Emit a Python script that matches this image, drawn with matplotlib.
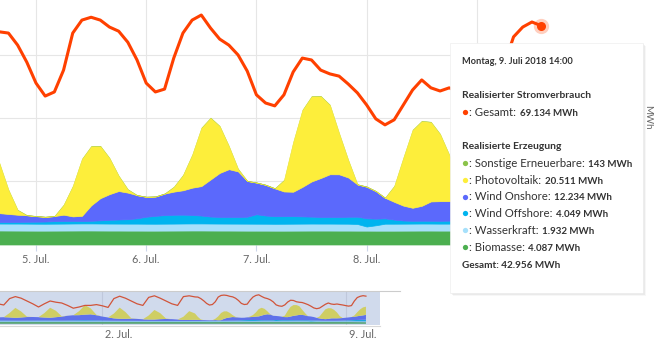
import matplotlib.pyplot as plt
import matplotlib.transforms as mtransforms
from matplotlib.patches import Rectangle
import numpy as np

plt.rcParams['font.family'] = ['Lato', 'DejaVu Sans']

# Stunden ab 4. Juli 2018 00:00, Hauptdiagramm in 2-Stunden-Schritten
hours = np.arange(16, 135, 2)

verbrauch = [67200, 66800, 63000, 57600, 51000, 46900, 48200, 55100, 66800, 70900,
             71800, 70900, 68700, 67400, 63900, 58300, 51000, 48200, 49100, 58900,
             66800, 70900, 72500, 68400, 64900, 63000, 59900, 54800, 47300, 44700,
             43800, 47300, 54500, 58900, 58300, 55100, 53900, 53200, 50700, 47900,
             44100, 39700, 37800, 39400, 44100, 48800, 52000, 49500, 48500, 49500,
             48200, 47000, 45500, 44200, 45500, 57000, 65600, 68700, 70300, 69134]

biomasse = [4420, 4410, 4400, 4390, 4380, 4380, 4390, 4400, 4410, 4420,
            4420, 4410, 4400, 4400, 4390, 4390, 4380, 4380, 4390, 4400,
            4410, 4420, 4420, 4410, 4400, 4400, 4390, 4380, 4380, 4380,
            4370, 4370, 4380, 4390, 4400, 4400, 4400, 4390, 4390, 4380,
            4380, 4370, 4370, 4370, 4380, 4390, 4400, 4400, 4390, 4390,
            4380, 4370, 4360, 4350, 4330, 4300, 4250, 4200, 4150, 4087]

wasserkraft = [2200, 2200, 2210, 2200, 2190, 2180, 2190, 2200, 2220, 2230,
               2230, 2220, 2210, 2200, 2200, 2200, 2190, 2180, 2190, 2200,
               2220, 2230, 2230, 2220, 2210, 2200, 2200, 2200, 2190, 2180,
               2170, 2180, 2190, 2200, 2210, 2200, 2200, 2190, 2180, 2100,
               1300, 1700, 2200, 2200, 2200, 2210, 2220, 2210, 2200, 2200,
               2190, 2180, 2170, 2150, 2100, 2050, 2000, 1980, 1950, 1932]

wind_offshore = [500, 500, 550, 600, 650, 700, 800, 850, 850, 800,
                 850, 1000, 1200, 1300, 1400, 1700, 2200, 2500, 2700, 2800,
                 2800, 2700, 2500, 2200, 2100, 2100, 2100, 2200, 3000, 2600,
                 2400, 2400, 2400, 2300, 2200, 2100, 2100, 2100, 2200, 2300,
                 2600, 2100, 1700, 1300, 1000, 900, 900, 900, 900, 950,
                 1100, 1400, 1800, 2200, 2600, 3000, 3300, 3600, 3900, 4049]

wind_onshore = [2790, 2540, 2240, 2060, 1750, 1480, 1600, 1970, 1400, 1600,
                4850, 7000, 8100, 9000, 8400, 7300, 6300, 6100, 6800, 7300,
                7700, 8600, 9300, 11700, 13900, 15100, 14400, 11300, 10000, 9700,
                8800, 7800, 7700, 9300, 11100, 12300, 13500, 13500, 12400, 10200,
                10000, 8700, 6500, 5600, 4700, 4100, 4700, 6100, 6200, 6150,
                6300, 6500, 6800, 7200, 7800, 8400, 9300, 10300, 11000, 12234]

photovoltaik = [15900, 7600, 1500, 0, 0, 0, 0, 3100, 9600, 18000,
                18700, 16500, 11400, 4800, 1000, 0, 0, 0, 0, 1500,
                4800, 10400, 18400, 19500, 14800, 7300, 800, 0, 0, 0,
                0, 3600, 15700, 24300, 26900, 25900, 21900, 13000, 5500, 0,
                0, 0, 0, 5000, 15200, 24600, 26800, 25100, 21200, 14600,
                5000, 0, 0, 0, 0, 3000, 10000, 16000, 20000, 20511]

sonstige = [150, 150, 150, 150, 150, 150, 150, 150, 150, 150,
            150, 150, 150, 150, 150, 150, 150, 150, 150, 150,
            150, 150, 150, 150, 150, 150, 150, 150, 150, 150,
            150, 150, 150, 150, 150, 150, 150, 150, 150, 150,
            150, 150, 150, 150, 150, 150, 150, 150, 150, 150,
            150, 150, 150, 150, 150, 145, 145, 145, 145, 143]

# Navigator: Vorlauf ab 29. Juni in 4-Stunden-Schritten
nav_hours = np.arange(-120, 13, 4)
nav_verbrauch = [50000, 47000, 63000, 68000, 64000, 57000, 50000, 42000, 50000, 57000,
                 54000, 52000, 46000, 39000, 42000, 46000, 46000, 48000, 45000, 41000,
                 63000, 69000, 64000, 57000, 50000, 46000, 66000, 70000, 64000, 57000,
                 50000, 46000, 68000, 70000]
nav_photovoltaik = [0, 0, 11000, 25000, 15000, 1000, 0, 0, 11000, 25000,
                    16000, 1000, 0, 0, 10000, 24000, 15000, 1000, 0, 0,
                    12000, 28000, 17000, 1000, 0, 0, 10000, 24000, 15000, 1000,
                    0, 0, 8000, 22000]
nav_onshore = [8000, 8500, 8000, 7000, 8000, 9000, 9000, 8500, 7500, 7000,
               8500, 10000, 12000, 13000, 13000, 14000, 15000, 13000, 10000, 8000,
               6000, 5000, 5000, 5500, 5000, 4000, 3500, 3500, 4500, 5000,
               4500, 3500, 2500, 2500]
nav_offshore = [1500, 1400, 1300, 1200, 1200, 1300, 1400, 1500, 1600, 1500,
                1400, 1300, 1500, 1800, 2000, 2200, 2000, 1800, 1500, 1200,
                1000, 900, 800, 800, 700, 600, 600, 500, 500, 500,
                500, 500, 500, 500]
nav_wasser = [2200, 2200, 2200, 2200, 2200, 2200, 2200, 2200, 2200, 2200,
              2200, 2200, 2200, 2200, 2200, 2200, 2200, 2200, 2200, 2200,
              2200, 2200, 2200, 2200, 2200, 2200, 2200, 2200, 2200, 2200,
              2200, 2200, 2200, 2200]
nav_biomasse = [4400, 4400, 4400, 4400, 4400, 4400, 4400, 4400, 4400, 4400,
                4400, 4400, 4400, 4400, 4400, 4400, 4400, 4400, 4400, 4400,
                4400, 4400, 4400, 4400, 4400, 4400, 4400, 4400, 4400, 4400,
                4400, 4400, 4400, 4400]

# 9. Juli liegt unter dem Tooltip, daher ohne Beschriftung
day_ticks = [24, 48, 72, 96, 120]
day_labels = ['5. Jul.', '6. Jul.', '7. Jul.', '8. Jul.', '']

c_verbrauch = '#ff4000'
c_sonstige = '#8bc34a'
c_pv = '#fdee3b'
c_onshore = '#5b69fc'
c_offshore = '#00b4ef'
c_wasser = '#a6e0fb'
c_bio = '#4caf50'
stack_colors = [c_bio, c_wasser, c_offshore, c_onshore, c_pv, c_sonstige]

W, H = 664, 344
fig = plt.figure(figsize=(W / 100, H / 100), dpi=100)

# Hauptdiagramm
ax = fig.add_axes([0, 1 - 244.5 / H, 541.1 / W, 244.5 / H])
polys = ax.stackplot(hours, biomasse, wasserkraft, wind_offshore, wind_onshore,
                     photovoltaik, sonstige, colors=stack_colors, linewidth=0.5, zorder=2)
for p, c in zip(polys, stack_colors):
    p.set_edgecolor(c)
polys[-1].set_linewidth(0)
ax.plot(hours, verbrauch, color=c_verbrauch, lw=2.2, solid_joinstyle='round', zorder=5)
ax.plot(hours[-1], verbrauch[-1], 'o', ms=11, color=c_verbrauch, alpha=0.25, mew=0,
        zorder=6, clip_on=False)
ax.plot(hours[-1], verbrauch[-1], 'o', ms=6.5, color=c_verbrauch, mew=0, zorder=7, clip_on=False)
ax.set_xlim(16.16, 134)
ax.set_ylim(0, 77250)
ax.set_yticks([20000, 40000, 60000])
ax.set_xticks(day_ticks, labels=day_labels)
ax.set_axisbelow(True)
ax.grid(True, color='#e6e6e6', lw=0.8)
ax.tick_params(axis='y', length=0, labelleft=False)
ax.tick_params(axis='x', length=4.5, width=0.8, color='#ccd6eb', labelcolor='#666666',
               labelsize=7.8, pad=2)
for s in ax.spines.values():
    s.set_visible(False)

# Navigator
nav = fig.add_axes([0, 1 - 325 / H, 380 / W, 34 / H])
all_hours = np.concatenate([nav_hours, hours])
nav.stackplot(all_hours,
              np.concatenate([nav_biomasse, biomasse]),
              np.concatenate([nav_wasser, wasserkraft]),
              np.concatenate([nav_offshore, wind_offshore]),
              np.concatenate([nav_onshore, wind_onshore]),
              np.concatenate([nav_photovoltaik, photovoltaik]),
              colors=stack_colors[:5], linewidth=0, zorder=2)
nav.plot(all_hours, np.concatenate([nav_verbrauch, verbrauch]), color=c_verbrauch,
         lw=0.9, zorder=3)
nav.add_patch(Rectangle((0, 0), 1, 1, transform=nav.transAxes,
                        color=(102 / 255, 133 / 255, 194 / 255), alpha=0.3, lw=0, zorder=10))
nav.set_xlim(-118.6, 143.7)
nav.set_ylim(-3000, 82000)
nav.set_xticks([-48, 120], labels=['2. Jul.', '9. Jul.'])
nav.set_yticks([])
nav.set_axisbelow(True)
nav.grid(True, axis='x', color='#e6e6e6', lw=0.8)
nav.tick_params(axis='x', length=0, labelcolor='#666666', labelsize=7.8, pad=3)
offset = mtransforms.ScaledTranslation(3 / 100, 0, fig.dpi_scale_trans)
for lbl in nav.get_xticklabels():
    lbl.set_horizontalalignment('left')
    lbl.set_transform(lbl.get_transform() + offset)
for s in nav.spines.values():
    s.set_visible(False)

# Overlay in Pixelkoordinaten für Tooltip und Achsentitel
ov = fig.add_axes([0, 0, 1, 1], zorder=20)
ov.set_xlim(0, W)
ov.set_ylim(H, 0)
ov.axis('off')

ov.plot([0, 400], [291, 291], color='#cccccc', lw=0.8)
ov.plot([0, 380], [325.5, 325.5], color='#d8d8d8', lw=0.8)
ov.text(648, 117, 'MWh', rotation=270, ha='center', va='center', fontsize=7, color='#666666')

bx, by, bw, bh = 450, 43, 192.7, 249.7
for d, a in [(3, 0.03), (2, 0.05), (1, 0.07)]:
    ov.add_patch(Rectangle((bx + d, by + d), bw, bh, color='black', alpha=a, lw=0))
ov.add_patch(Rectangle((bx, by), bw, bh, facecolor='white', edgecolor='#eeeeee', lw=0.5))

txt = '#333333'
renderer = fig.canvas.get_renderer()


def fmt(v):
    return f'{v:,}'.replace(',', '.') + ' MWh'


ov.text(462, 61.7, 'Montag, 9. Juli 2018 14:00', fontsize=6.7, fontweight='bold',
        va='center', color=txt)
ov.text(462, 95, 'Realisierter Stromverbrauch', fontsize=7.4, fontweight='bold',
        va='center', color=txt)
ov.text(462, 146.7, 'Realisierte Erzeugung', fontsize=7.4, fontweight='bold',
        va='center', color=txt)


def row(y, color, label, value):
    ov.plot(465, y, 'o', ms=3.8, color=color, mew=0)
    base = y + 3.8
    t = ov.text(469, base, ': ' + label + ':', fontsize=8.2, va='baseline', color=txt)
    # Wert direkt hinter der Beschriftung, gleiche Grundlinie
    right_px = t.get_window_extent(renderer).x1
    x_val = ov.transData.inverted().transform((right_px, 0))[0] + 3.5
    ov.text(x_val, base, fmt(value), fontsize=7.0, fontweight='bold', va='baseline', color=txt)


row(111.7, c_verbrauch, 'Gesamt', verbrauch[-1])
rows = [('Sonstige Erneuerbare', sonstige, c_sonstige),
        ('Photovoltaik', photovoltaik, c_pv),
        ('Wind Onshore', wind_onshore, c_onshore),
        ('Wind Offshore', wind_offshore, c_offshore),
        ('Wasserkraft', wasserkraft, c_wasser),
        ('Biomasse', biomasse, c_bio)]
for k, (name, series, color) in enumerate(rows):
    row(163.3 + k * 16.68, color, name, series[-1])

gesamt = sum(series[-1] for _, series, _ in rows)
ov.text(462, 265.5, 'Gesamt: ' + fmt(gesamt), fontsize=7.2, fontweight='bold',
        va='center', color=txt)

fig.savefig('out.png', dpi=100)
